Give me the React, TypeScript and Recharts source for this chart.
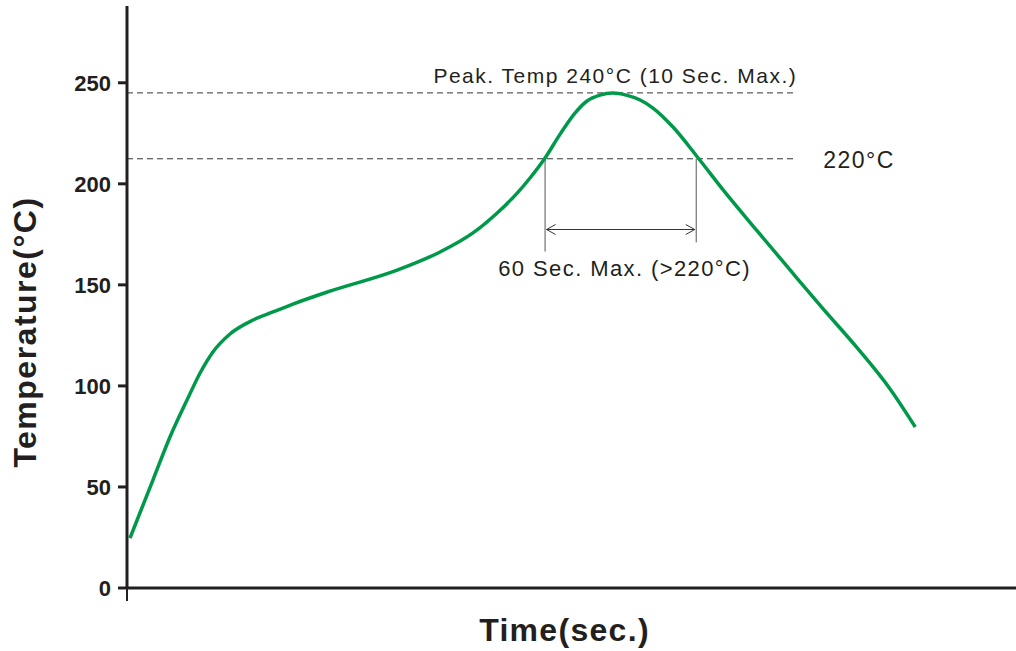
import { Label, Line, LineChart, ReferenceLine, XAxis, YAxis } from "recharts"

// Reflow-Profil: Temperatur über die Zeit
const times = [1.2, 10.5, 17.4, 24.3, 29.6, 34.8, 41.7, 51, 59.1, 67.2, 82.2, 109.4, 126.8, 140.1, 149.9, 158, 163.2, 169.3, 175.4, 181.4, 186.3, 191.5, 196.8, 202.1, 207.8, 213, 221.1, 231.3, 241.4, 255.2, 268.5, 281.9, 295.7, 309, 319.2]
const temps = [24.7, 53.4, 74.7, 93, 106.4, 116.8, 125.7, 132.6, 136.6, 140.5, 146.9, 157.3, 166.3, 175.7, 185.6, 195.4, 202.9, 212.8, 224.6, 235, 241, 243.9, 244.9, 243.9, 241.5, 237.5, 228.1, 212.8, 197, 176.7, 157.4, 138.1, 118.8, 98.5, 79.7]
const yTicks = [0, 50, 100, 150, 200, 250]

// Markierungen (Zeit in s, Temperatur in °C, so wie im Bild gezeichnet)
const peakLine = 245
const limitLine = 212.4
const dashEnd = 271
const windowStart = 169.3
const windowEnd = 230.5
const arrowTemp = 177.4
const leftDrop = 166.5
const rightDrop = 171

const data = times.map((t, i) => ({ t, v: temps[i] }))

const FONT = "Arial, 'Liberation Sans', Helvetica, sans-serif"
const INK = "#231f20"

const ArrowShape = (p: any) => {
  const { x1, y1, x2, y2 } = p
  const a = Math.min(x1, x2)
  const b = Math.max(x1, x2)
  return (
    <g stroke="#333" strokeWidth={1} fill="none">
      <line x1={a} y1={y1} x2={b} y2={y2} />
      <polyline points={`${a + 9},${y1 - 5} ${a},${y1} ${a + 9},${y1 + 5}`} />
      <polyline points={`${b - 9},${y2 - 5} ${b},${y2} ${b - 9},${y2 + 5}`} />
    </g>
  )
}

export default function App() {
  return (
    <div style={{ position: "absolute", left: 0, top: 0, background: "#fff" }}>
      <LineChart width={1016} height={651} data={data} margin={{ top: 6, right: 0, bottom: 0, left: 0 }}>
        <XAxis dataKey="t" type="number" domain={[0, 360]} ticks={[0]} height={63}
          tickFormatter={() => ""} tickSize={13}
          axisLine={{ stroke: INK, strokeWidth: 3 }} tickLine={{ stroke: INK, strokeWidth: 2 }}>
          <Label content={({ viewBox }: any) => (
            <text x={viewBox.x + viewBox.width / 2 - 7} y={641} textAnchor="middle"
              fontFamily={FONT} fontWeight="bold" fontSize={32} letterSpacing={1.3} fill={INK}>
              Time(sec.)
            </text>
          )} />
        </XAxis>
        <YAxis type="number" domain={[0, 288]} ticks={yTicks} width={127} tickSize={9} tickMargin={7}
          tick={{ fill: INK, fontSize: 22, fontWeight: "bold", fontFamily: FONT }}
          axisLine={{ stroke: INK, strokeWidth: 3 }} tickLine={{ stroke: INK, strokeWidth: 3 }}>
          <Label content={() => (
            <text x={36} y={332} transform="rotate(-90 36 332)" textAnchor="middle"
              fontFamily={FONT} fontWeight="bold" fontSize={32} letterSpacing={1.5} fill={INK}>
              Temperature(°C)
            </text>
          )} />
        </YAxis>

        <ReferenceLine segment={[{ x: 0, y: peakLine }, { x: dashEnd, y: peakLine }]}
          stroke="#333" strokeWidth={1} strokeDasharray="6 4">
          <Label content={({ viewBox }: any) => (
            <text x={viewBox.x + viewBox.width + 1} y={viewBox.y - 10} textAnchor="end"
              fontFamily={FONT} fontSize={21} letterSpacing={1.5} fill={INK}>
              Peak. Temp 240°C (10 Sec. Max.)
            </text>
          )} />
        </ReferenceLine>
        <ReferenceLine segment={[{ x: 0, y: limitLine }, { x: dashEnd, y: limitLine }]}
          stroke="#333" strokeWidth={1} strokeDasharray="6 4">
          <Label content={({ viewBox }: any) => (
            <text x={viewBox.x + viewBox.width + 27} y={viewBox.y + 9} textAnchor="start"
              fontFamily={FONT} fontSize={23} letterSpacing={1.5} fill={INK}>
              220°C
            </text>
          )} />
        </ReferenceLine>
        <ReferenceLine segment={[{ x: windowStart, y: limitLine }, { x: windowStart, y: leftDrop }]}
          stroke="#555" strokeWidth={1} />
        <ReferenceLine segment={[{ x: windowEnd, y: limitLine }, { x: windowEnd, y: rightDrop }]}
          stroke="#555" strokeWidth={1} />
        <ReferenceLine segment={[{ x: windowStart + 0.6, y: arrowTemp }, { x: windowEnd - 0.6, y: arrowTemp }]}
          shape={ArrowShape}>
          <Label content={({ viewBox }: any) => (
            <text x={viewBox.x + viewBox.width / 2 + 4} y={viewBox.y + 46} textAnchor="middle"
              fontFamily={FONT} fontSize={22} letterSpacing={1.4} fill={INK}>
              60 Sec. Max. (&gt;220°C)
            </text>
          )} />
        </ReferenceLine>

        <Line dataKey="v" type="monotone" stroke="#00994a" strokeWidth={3.5} dot={false}
          activeDot={false} isAnimationActive={false} />
      </LineChart>
    </div>
  )
}
